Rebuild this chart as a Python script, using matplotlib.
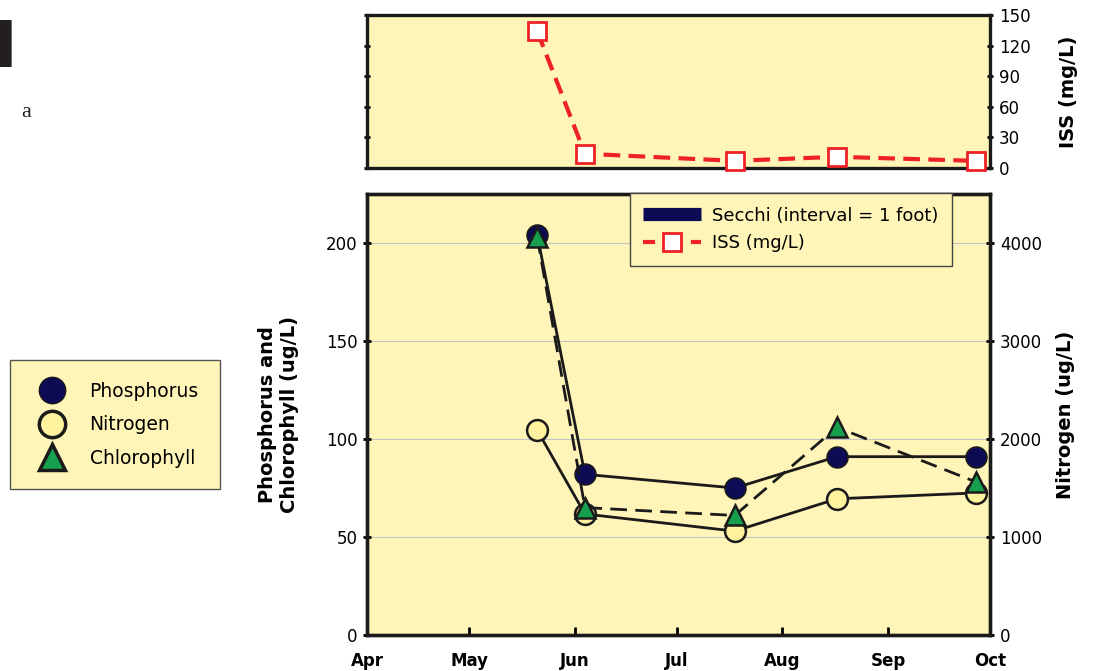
import datetime as dt
import matplotlib.pyplot as plt
from matplotlib.lines import Line2D

plt.rcParams['font.family'] = ['DejaVu Sans']

# sample dates and values
dates = [dt.date(2005, 5, 21), dt.date(2005, 6, 4), dt.date(2005, 7, 18),
         dt.date(2005, 8, 17), dt.date(2005, 9, 27)]
phosphorus = [204, 82, 75, 91, 91]        # ug/L, left axis
chlorophyll = [203, 65, 61, 106, 78]      # ug/L, left axis
nitrogen = [2090, 1235, 1060, 1390, 1450]  # ug/L, right axis
iss = [134, 14, 7, 11, 7]                 # mg/L, top panel

month_ticks = [dt.date(2005, m, 1) for m in range(4, 11)]
month_labels = ['Apr', 'May', 'Jun', 'Jul', 'Aug', 'Sep', 'Oct']

bg = '#FFF5B8'
navy = '#0E0B55'
green = '#16A04E'
pale = '#FFF29E'
red = '#EE2226'
ink = '#1a1a1a'

fig = plt.figure(figsize=(10.94, 6.71), dpi=100)

# ---- top panel: ISS
axt = fig.add_axes([0.3355, 0.7496, 0.5695, 0.228])
axt.set_facecolor(bg)
axt.plot(dates, iss, color=red, lw=3, dashes=(4, 2), marker='s', ms=13,
         mfc='white', mec=red, mew=2, clip_on=False, zorder=3)
axt.set_xlim(dt.date(2005, 4, 1), dt.date(2005, 10, 1))
axt.set_ylim(0, 150)
axt.set_yticks(range(0, 151, 30))
axt.yaxis.tick_right()
axt.yaxis.set_label_position('right')
axt.tick_params(axis='y', which='both', left=True, right=True, direction='inout',
                length=5, width=2, labelsize=12, pad=4)
axt.set_xticks([])
axt.set_ylabel('ISS (mg/L)', fontsize=14, fontweight='bold', labelpad=20)
for s in axt.spines.values():
    s.set_linewidth(2.4)
    s.set_color(ink)

# ---- bottom panel
ax = fig.add_axes([0.3355, 0.0537, 0.5695, 0.657])
ax2 = ax.twinx()
ax.set_zorder(ax2.get_zorder() + 1)
ax.patch.set_visible(False)
ax2.patch.set_visible(True)
ax2.patch.set_facecolor(bg)

ax2.plot(dates, nitrogen, color=ink, lw=2, marker='o', ms=15,
         mfc=pale, mec=ink, mew=1.8, clip_on=False)
ax.plot(dates, phosphorus, color=ink, lw=2, marker='o', ms=15,
        mfc=navy, mec=ink, mew=1.2, clip_on=False)
ax.plot(dates, chlorophyll, color=ink, lw=2, dashes=(6, 3), marker='^',
        ms=15, mfc=green, mec=ink, mew=1.8, clip_on=False)

ax.set_xlim(dt.date(2005, 4, 1), dt.date(2005, 10, 1))
ax.set_ylim(0, 225)
ax2.set_ylim(0, 4500)
ax.set_yticks(range(0, 201, 50))
ax2.set_yticks(range(0, 4001, 1000))
ax2.grid(axis='y', color='#c4c4c4', lw=0.8)
ax2.set_axisbelow(True)

ax.set_xticks(month_ticks)
ax.set_xticklabels(month_labels, fontweight='bold', fontsize=12)
ax.tick_params(axis='x', direction='in', length=6, width=2, pad=12)
ax.tick_params(axis='y', direction='inout', length=6, width=2, labelsize=12, pad=4)
ax2.tick_params(axis='y', direction='inout', length=6, width=2, labelsize=12, pad=4)

ax.set_ylabel('Phosphorus and\nChlorophyll (ug/L)', fontsize=14,
              fontweight='bold', labelpad=19)
ax2.set_ylabel('Nitrogen (ug/L)', fontsize=14, fontweight='bold', labelpad=10)
for a in (ax, ax2):
    for s in a.spines.values():
        s.set_linewidth(2.4)
        s.set_color(ink)

# legends
h1 = [Line2D([], [], color=navy, lw=9.5, solid_capstyle='butt'),
      Line2D([], [], color=red, lw=3, dashes=(2.9, 8.6), marker='s', ms=13,
             mfc='white', mec=red, mew=2)]
leg1 = fig.legend(h1, ['Secchi (interval = 1 foot)', 'ISS (mg/L)'],
                  loc='upper right', bbox_to_anchor=(0.870, 0.7124),
                  fontsize=13, frameon=True, fancybox=False, framealpha=1,
                  facecolor=bg, edgecolor='#444444', borderaxespad=0,
                  handlelength=3.2, handletextpad=0.6, borderpad=0.75,
                  labelspacing=0.55)
leg1.get_frame().set_linewidth(1)

h2 = [Line2D([], [], ls='none', marker='o', ms=19, mfc=navy, mec=ink, mew=1),
      Line2D([], [], ls='none', marker='o', ms=19, mfc=pale, mec=ink, mew=2.5),
      Line2D([], [], ls='none', marker='^', ms=19, mfc=green, mec=ink, mew=2.5)]
leg2 = fig.legend(h2, ['Phosphorus', 'Nitrogen', 'Chlorophyll'],
                  loc='upper left', bbox_to_anchor=(0.009, 0.4635),
                  fontsize=13.5, frameon=True, fancybox=False, framealpha=1,
                  facecolor=bg, edgecolor='#555555', borderaxespad=0,
                  handlelength=2.2, borderpad=1.15, labelspacing=0.78,
                  handletextpad=0.9)
leg2.get_frame().set_linewidth(1)

# leftover fragments of page text at the top left
fig.text(-0.0335, 0.900, 'H', fontsize=46, fontweight='bold', color='#231f20')
fig.text(0.019, 0.825, 'a', fontsize=16, family=['Liberation Serif', 'DejaVu Serif'],
         color='#231f20')

fig.savefig('out.png', dpi=100)
